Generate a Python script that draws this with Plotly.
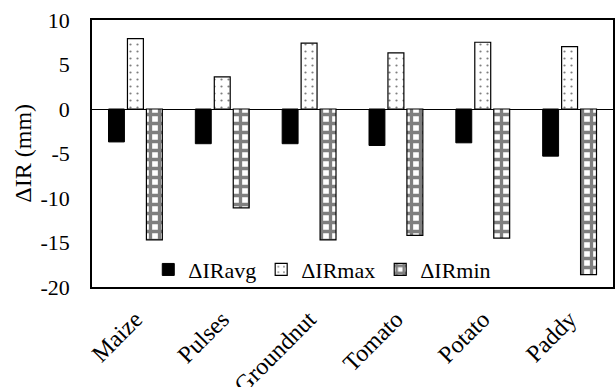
import plotly.graph_objects as go

crops = ["Maize", "Pulses", "Groundnut", "Tomato", "Potato", "Paddy"]
ir_avg = [-3.7, -3.9, -3.9, -4.1, -3.8, -5.3]
ir_max = [7.9, 3.6, 7.4, 6.3, 7.5, 7.0]
ir_min = [-14.7, -11.1, -14.7, -14.2, -14.5, -18.6]
y_ticks = [10, 5, 0, -5, -10, -15, -20]
y_tick_text = ["10", "5", "0", "-5", "-10", "-15", "-20"]

FONT = "Liberation Serif, Times New Roman, serif"

fig = go.Figure()
fig.add_trace(go.Bar(
    x=crops, y=ir_avg, name="ΔIRavg",
    marker=dict(color="black", line=dict(color="black", width=1)),
))
fig.add_trace(go.Bar(
    x=crops, y=ir_max, name="ΔIRmax",
    marker=dict(color="white", line=dict(color="black", width=1.2),
                pattern=dict(shape=".", fgcolor="black", bgcolor="white",
                             size=7, solidity=0.08)),
))
fig.add_trace(go.Bar(
    x=crops, y=ir_min, name="ΔIRmin",
    marker=dict(color="white", line=dict(color="black", width=1.2),
                pattern=dict(shape="+", fgcolor="black", bgcolor="white",
                             size=9, solidity=0.6)),
))

fig.update_layout(
    width=615, height=387,
    margin=dict(l=92, r=2, t=20, b=100, autoexpand=False),
    paper_bgcolor="white", plot_bgcolor="white",
    barmode="group", bargap=0.345, bargroupgap=0.16,
    font=dict(family=FONT, size=20, color="black"),
    showlegend=True,
    legend=dict(orientation="h", x=0.108, y=0.065, xanchor="left", yanchor="middle",
                bgcolor="rgba(0,0,0,0)", font=dict(family=FONT, size=22),
                itemwidth=30, tracegroupgap=0),
    annotations=[dict(
        text="ΔIR (mm)", textangle=-90, showarrow=False,
        xref="paper", yref="paper", x=-0.134, y=0.5,
        xanchor="center", yanchor="middle",
        font=dict(family=FONT, size=24, color="black"),
    )],
)
fig.update_xaxes(
    tickangle=-45, showline=True, linecolor="black", linewidth=1.5, mirror=True,
    ticks="outside", ticklen=7, tickcolor="rgba(0,0,0,0)",
    tickfont=dict(family=FONT, size=24), automargin=False,
)
fig.update_yaxes(
    range=[-20, 10], tickvals=y_ticks, ticktext=y_tick_text,
    ticks="outside", ticklen=16, tickcolor="rgba(0,0,0,0)", showgrid=False,
    showline=True, linecolor="black", linewidth=1.5, mirror=True,
    zeroline=True, zerolinecolor="black", zerolinewidth=1.2,
    tickfont=dict(family=FONT, size=22), automargin=False,
)

fig.write_html("out.html")
